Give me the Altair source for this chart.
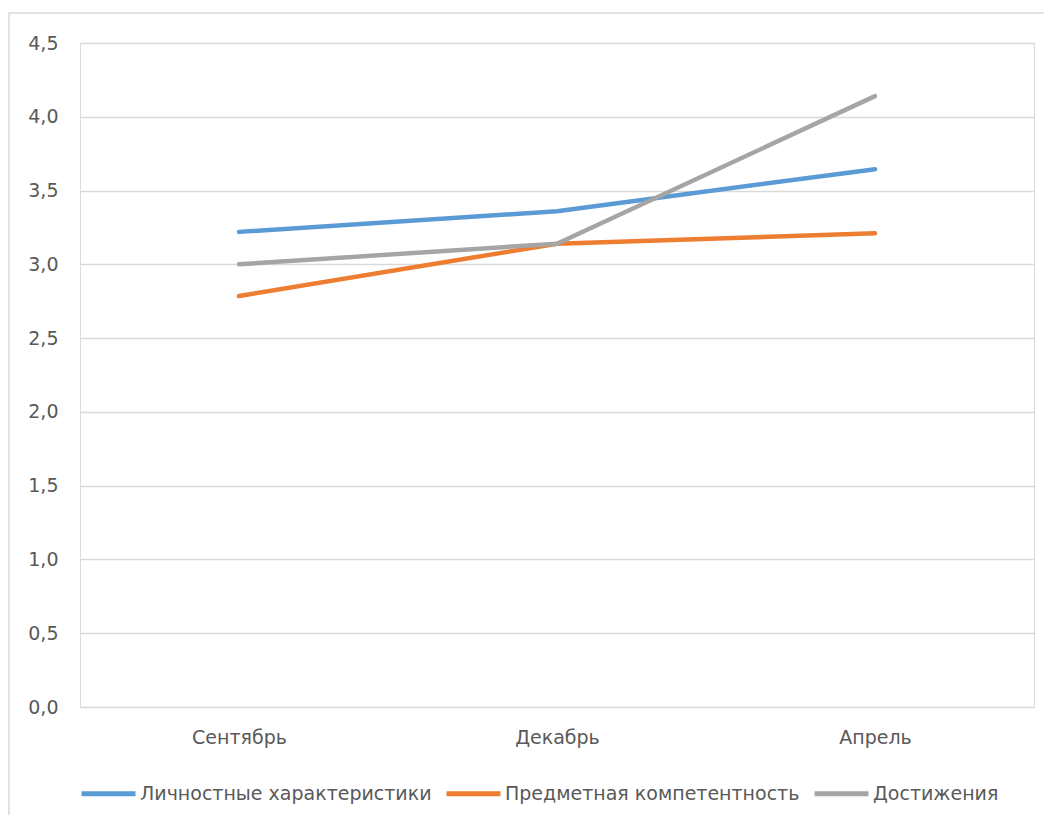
import altair as alt
import pandas as pd

months = ["Сентябрь", "Декабрь", "Апрель"]
series_names = ["Личностные характеристики", "Предметная компетентность", "Достижения"]
personal = [3.22, 3.36, 3.645]
subject = [2.785, 3.14, 3.21]
achieve = [3.0, 3.14, 4.14]
colors = ["#5B9BD5", "#ED7D31", "#A5A5A5"]
y_ticks = [0, 0.5, 1.0, 1.5, 2.0, 2.5, 3.0, 3.5, 4.0, 4.5]

rows = []
for name, vals in zip(series_names, [personal, subject, achieve]):
    for m, v in zip(months, vals):
        rows.append({"month": m, "series": name, "value": v})
df = pd.DataFrame(rows)

FONT = "DejaVu Sans"
TXT = "#595959"
W, H = 954, 664

border = alt.Chart(pd.DataFrame({"a": [0]})).mark_rect(
    fill=None, stroke="#d9d9d9", strokeWidth=1.5, clip=False
).encode(
    x=alt.value(-71), x2=alt.value(1100), y=alt.value(-30), y2=alt.value(820)
)

lines = alt.Chart(df).mark_line(strokeWidth=4.5, strokeCap="round", strokeJoin="round").encode(
    x=alt.X("month:N", sort=months, scale=alt.Scale(type="point", padding=0.5),
            axis=alt.Axis(title=None, labelAngle=0, ticks=False, domain=False, grid=False,
                          labelFontSize=19, labelColor=TXT, labelFont=FONT, labelPadding=21)),
    y=alt.Y("value:Q", scale=alt.Scale(domain=[0, 4.5], nice=False),
            axis=alt.Axis(title=None, values=y_ticks, ticks=False, domain=False,
                          gridColor="#d9d9d9", gridWidth=1.5,
                          labelExpr="replace(format(datum.value, '.1f'), '.', ',')",
                          labelFontSize=19, labelColor=TXT, labelFont=FONT, labelPadding=22)),
    color=alt.Color("series:N", sort=series_names,
                    scale=alt.Scale(domain=series_names, range=colors),
                    legend=alt.Legend(title=None, orient="none", direction="horizontal",
                                      columns=3, legendX=-1, legendY=721,
                                      symbolType="stroke", symbolSize=2916, symbolStrokeWidth=5,
                                      labelFontSize=19, labelColor=TXT, labelFont=FONT,
                                      labelLimit=0,
                                      labelOffset=2, columnPadding=4, padding=0)),
    order=alt.Order("month_idx:Q"),
).transform_calculate(
    month_idx="indexof(['Сентябрь','Декабрь','Апрель'], datum.month)"
)

chart = alt.layer(border, lines).properties(
    width=W, height=H,
    autosize=alt.AutoSizeParams(type="none"),
    padding={"left": 72, "top": 35, "right": 10, "bottom": 108},
).configure_view(stroke=None).configure(background="white")

chart.save("out.html", embed_options={"renderer": "svg", "actions": False})
